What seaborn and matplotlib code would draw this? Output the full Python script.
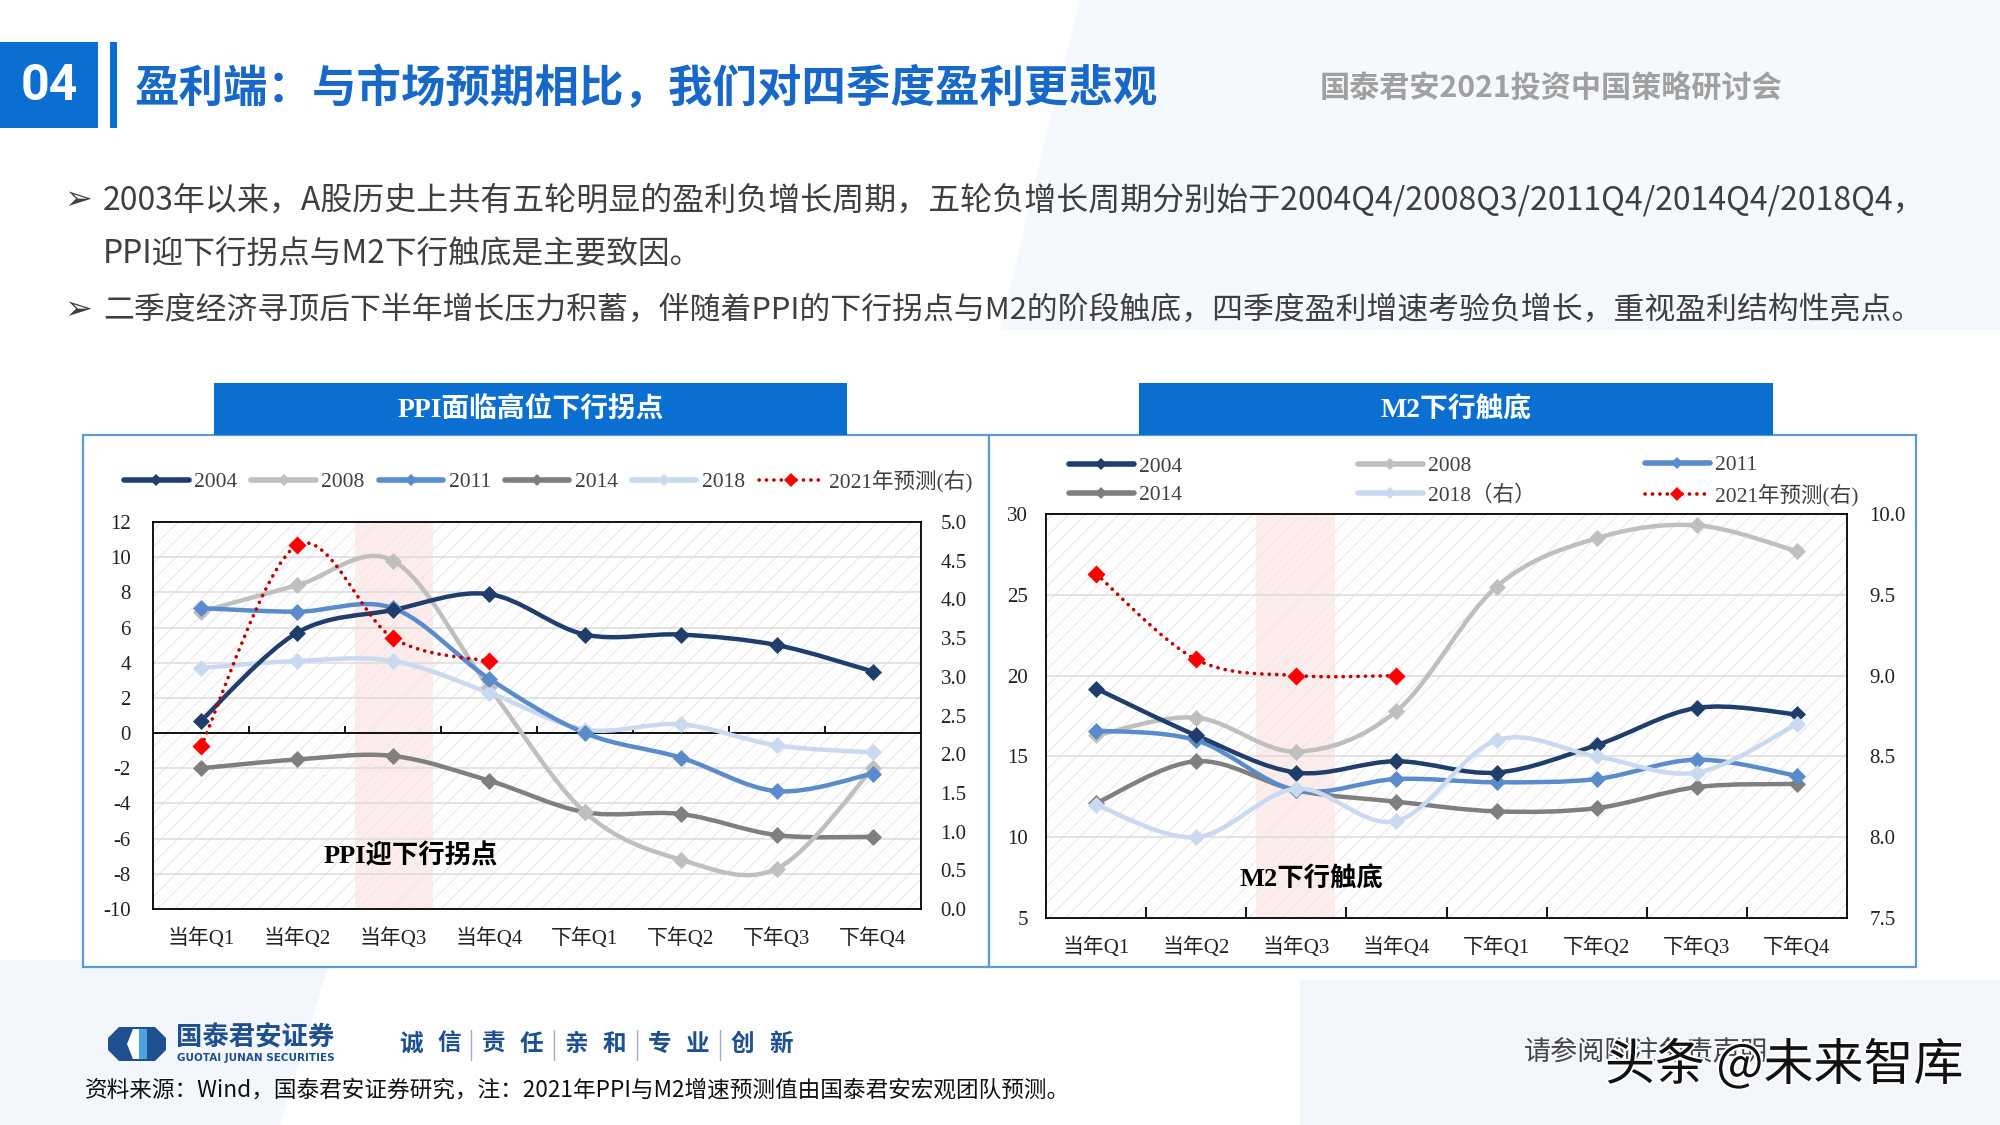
import numpy as np
import pandas as pd
import matplotlib
matplotlib.use("Agg")
import matplotlib.pyplot as plt
import seaborn as sns
from matplotlib.path import Path
from matplotlib.patches import PathPatch, Rectangle, Polygon
from matplotlib.lines import Line2D
import matplotlib.patheffects as pe

# ---------------- data ----------------
quarters = ['当年Q1', '当年Q2', '当年Q3', '当年Q4', '下年Q1', '下年Q2', '下年Q3', '下年Q4']
ppi_2004 = [0.7, 5.7, 7.0, 7.9, 5.6, 5.6, 5.0, 3.5]
ppi_2008 = [6.9, 8.4, 9.8, 2.6, -4.5, -7.2, -7.7, -2.0]
ppi_2011 = [7.1, 6.9, 7.1, 3.1, 0.0, -1.4, -3.3, -2.3]
ppi_2014 = [-2.0, -1.5, -1.3, -2.7, -4.5, -4.6, -5.8, -5.9]
ppi_2018 = [3.7, 4.1, 4.1, 2.3, 0.2, 0.5, -0.7, -1.1]
ppi_2021_right = [2.1, 4.7, 3.5, 3.2]

m2_2004 = [19.2, 16.3, 14.0, 14.7, 14.0, 15.7, 18.0, 17.6]
m2_2008 = [16.3, 17.4, 15.3, 17.8, 25.5, 28.5, 29.3, 27.7]
m2_2011 = [16.6, 16.0, 12.9, 13.6, 13.4, 13.6, 14.8, 13.8]
m2_2014 = [12.1, 14.7, 12.9, 12.2, 11.6, 11.8, 13.1, 13.3]
m2_2018_right = [8.2, 8.0, 8.3, 8.1, 8.6, 8.5, 8.4, 8.7]
m2_2021_right = [9.63, 9.1, 9.0, 9.0]

ppi_left_ticks = list(range(-10, 13, 2))
ppi_right_ticks = [0.0, 0.5, 1.0, 1.5, 2.0, 2.5, 3.0, 3.5, 4.0, 4.5, 5.0]
m2_left_ticks = [5, 10, 15, 20, 25, 30]
m2_right_ticks = [7.5, 8.0, 8.5, 9.0, 9.5, 10.0]

slogan_groups = [['诚', '信'], ['责', '任'], ['亲', '和'], ['专', '业'], ['创', '新']]

# ---------------- style ----------------
sns.set_theme(style="white")
plt.rcParams['font.family'] = ['Liberation Serif', 'Noto Sans CJK SC']
plt.rcParams['hatch.linewidth'] = 1.0
plt.rcParams['axes.unicode_minus'] = False

C2004 = '#1F3E6B'
C2008 = '#BFBFBF'
C2011 = '#5A8BCB'
C2014 = '#7F7F7F'
C2018 = '#C9D9EF'
CRED = '#FF0000'
CREDLINE = '#C00000'
BLUE = '#0A6FD1'
SANS = ['Noto Sans CJK SC', 'DejaVu Sans']
SERIF = ['Liberation Serif', 'Noto Sans CJK SC']

W, H = 2000, 1125
fig = plt.figure(figsize=(20, 11.25), dpi=100)
fig.patch.set_facecolor('white')

# background / decoration axes in pixel coords
bg = fig.add_axes([0, 0, 1, 1])
bg.set_xlim(0, W)
bg.set_ylim(H, 0)
bg.axis('off')

# faint background shapes
bg.add_patch(Polygon([[1080, 0], [2000, 0], [2000, 330], [1000, 330], [1050, 120]],
                     closed=True, facecolor='#F5F8FC', edgecolor='none', zorder=0))
bg.add_patch(Polygon([[0, 960], [330, 960], [280, 1125], [0, 1125]],
                     closed=True, facecolor='#F3F7FC', edgecolor='none', zorder=0))
bg.add_patch(Polygon([[1300, 980], [2000, 980], [2000, 1125], [1300, 1125]],
                     closed=True, facecolor='#F2F6FB', edgecolor='none', zorder=0))

# header
bg.add_patch(Rectangle((0, 42), 98, 86, facecolor=BLUE, edgecolor='none', zorder=2))
bg.text(49, 86, '04', color='white', fontsize=36, fontweight='bold', family=['Roboto', 'DejaVu Sans'],
        ha='center', va='center', zorder=3)
bg.add_patch(Rectangle((110, 42), 7, 86, facecolor=BLUE, edgecolor='none', zorder=2))
bg.text(135, 89, '盈利端：与市场预期相比，我们对四季度盈利更悲观', color='#1768C9', fontsize=32,
        fontweight='heavy', family=SANS, ha='left', va='center', zorder=3)
bg.text(1320, 88, '国泰君安2021投资中国策略研讨会', color='#A0A0A0', fontsize=21.7,
        fontweight='bold', family=SANS, ha='left', va='center', zorder=3)

# bullets
txt_color = '#3F3F3F'
bg.text(64, 200, '➢', color=txt_color, fontsize=24, family=['DejaVu Sans'], ha='left', va='center')
bg.text(103, 200, '2003年以来，A股历史上共有五轮明显的盈利负增长周期，五轮负增长周期分别始于2004Q4/2008Q3/2011Q4/2014Q4/2018Q4，',
        color=txt_color, fontsize=23.0, family=SANS, ha='left', va='center')
bg.text(103, 255, 'PPI迎下行拐点与M2下行触底是主要致因。',
        color=txt_color, fontsize=22.8, family=SANS, ha='left', va='center')
bg.text(64, 310, '➢', color=txt_color, fontsize=24, family=['DejaVu Sans'], ha='left', va='center')
bg.text(103, 310, '二季度经济寻顶后下半年增长压力积蓄，伴随着PPI的下行拐点与M2的阶段触底，四季度盈利增速考验负增长，重视盈利结构性亮点。',
        color=txt_color, fontsize=22.2, family=SANS, ha='left', va='center')

# panels
for (x0, x1) in [(83, 989), (989, 1916)]:
    bg.add_patch(Rectangle((x0, 435), x1 - x0, 532, facecolor='white', edgecolor='#5B9BD5',
                           lw=1.6, zorder=1))
for (x0, x1, title) in [(214, 847, 'PPI面临高位下行拐点'), (1139, 1773, 'M2下行触底')]:
    bg.add_patch(Rectangle((x0, 383), x1 - x0, 52, facecolor=BLUE, edgecolor='none', zorder=2))
    bg.text((x0 + x1) / 2, 410, title, color='white', fontsize=20, fontweight='bold',
            family=SERIF, ha='center', va='center', zorder=3)

# footer
logo_cx, logo_cy = 137, 1044
bg.add_patch(Polygon([[logo_cx - 18, logo_cy - 17], [logo_cx + 18, logo_cy - 17], [logo_cx + 29, logo_cy - 6],
                      [logo_cx + 29, logo_cy + 6], [logo_cx + 18, logo_cy + 17], [logo_cx - 18, logo_cy + 17],
                      [logo_cx - 29, logo_cy + 6], [logo_cx - 29, logo_cy - 6]],
                     closed=True, facecolor='#1E4F8F', edgecolor='none', zorder=2))
bg.add_patch(Polygon([[logo_cx - 4, logo_cy - 15], [logo_cx + 10, logo_cy - 15], [logo_cx + 10, logo_cy + 15],
                      [logo_cx - 4, logo_cy + 15], [logo_cx - 10, logo_cy]],
                     closed=True, facecolor='white', edgecolor='none', zorder=3))
bg.add_patch(Polygon([[logo_cx + 2, logo_cy - 15], [logo_cx + 10, logo_cy - 15], [logo_cx + 10, logo_cy + 15],
                      [logo_cx + 2, logo_cy + 15]],
                     closed=True, facecolor='#4DA3E0', edgecolor='none', zorder=4))
bg.text(176, 1038, '国泰君安证券', color='#1E4F8F', fontsize=19, fontweight='bold', family=SANS,
        ha='left', va='center')
bg.text(177, 1058, 'GUOTAI JUNAN SECURITIES', color='#1E4F8F', fontsize=7.5, fontweight='bold',
        family=['DejaVu Sans'], ha='left', va='center')
gx = 399
for gi, grp in enumerate(slogan_groups):
    for ci, ch in enumerate(grp):
        bg.text(gx + ci * 38, 1044, ch, color='#1E4F8F', fontsize=17, fontweight='bold',
                family=SANS, ha='left', va='center')
    if gi < len(slogan_groups) - 1:
        bg.plot([gx + 72, gx + 72], [1030, 1060], color='#9AAFCB', lw=1)
    gx += 83
bg.text(85, 1090, '资料来源：Wind，国泰君安证券研究，注：2021年PPI与M2增速预测值由国泰君安宏观团队预测。',
        color='#111111', fontsize=16.3, family=SANS, ha='left', va='center')
bg.text(1524, 1052, '请参阅附注免责声明', color='#444444', fontsize=19.5, family=SANS,
        ha='left', va='center', zorder=3)
bg.text(1605, 1066, '头条 @未来智库', color='#111111', fontsize=36, family=SANS, ha='left', va='center',
        zorder=4, path_effects=[pe.withStroke(linewidth=3, foreground='white')])


# ---------------- helpers ----------------
def smooth_path(xs, ys):
    pts = np.column_stack([np.asarray(xs, float), np.asarray(ys, float)])
    n = len(pts)
    verts = [pts[0]]
    codes = [Path.MOVETO]
    for i in range(n - 1):
        p0 = pts[i - 1] if i > 0 else pts[i]
        p1 = pts[i]
        p2 = pts[i + 1]
        p3 = pts[i + 2] if i + 2 < n else pts[i + 1]
        c1 = p1 + (p2 - p0) / 6.0
        c2 = p2 - (p3 - p1) / 6.0
        verts += [c1, c2, p2]
        codes += [Path.CURVE4] * 3
    return Path(verts, codes)


def draw_series(ax, values, color, marker_color=None, dotted=False, s=75, lw=3.2):
    xs = np.arange(len(values))
    df = pd.DataFrame({'q': xs, 'v': values})
    if dotted:
        ax.add_patch(PathPatch(smooth_path(xs, values), fill=False, edgecolor=CREDLINE, lw=2.6,
                               linestyle=(0, (0.05, 2.0)), capstyle='round', zorder=3))
    else:
        ax.add_patch(PathPatch(smooth_path(xs, values), fill=False, edgecolor=color, lw=lw,
                               capstyle='round', joinstyle='round', zorder=3))
    sns.scatterplot(data=df, x='q', y='v', ax=ax, marker='D', s=s,
                    color=marker_color or color, linewidth=0, zorder=4, legend=False)


def base_axes(rect, ylim, yticks, band):
    ax = fig.add_axes(rect)
    ax.set_facecolor('white')
    ax.add_patch(Rectangle((0, 0), 1, 1, transform=ax.transAxes, facecolor='white',
                           edgecolor='#ECECEC', hatch='//', lw=0, zorder=0))
    ax.axvspan(band[0], band[1], color='#FBE3E3', alpha=0.65, lw=0, zorder=0.5)
    ax.set_xlim(-0.5, len(quarters) - 0.5)
    ax.set_ylim(*ylim)
    ax.set_yticks(yticks)
    ax.set_yticklabels([str(t) for t in yticks])
    ax.set_xticks(range(len(quarters)))
    ax.set_xticklabels(quarters)
    ax.tick_params(axis='both', which='major', length=0, labelsize=15, colors='#222222')
    for sp in ax.spines.values():
        sp.set_visible(True)
        sp.set_color('black')
        sp.set_linewidth(1.3)
    for t in yticks[1:-1]:
        ax.axhline(t, color='#DCDCDC', lw=1.1, zorder=1)
    ax.set_xlabel('')
    ax.set_ylabel('')
    return ax


def right_axis(ax, ylim, ticks, pad):
    ax2 = ax.twinx()
    ax2.set_ylim(*ylim)
    ax2.set_yticks(ticks)
    ax2.set_yticklabels([f'{t:.1f}' for t in ticks])
    ax2.tick_params(axis='y', length=0, labelsize=15, colors='#222222', pad=pad)
    for sp in ax2.spines.values():
        sp.set_visible(False)
    ax2.grid(False)
    return ax2


# ---------------- left chart: PPI ----------------
axL = base_axes([153 / W, 1 - 909 / H, 768 / W, 387 / H], (-10, 12), ppi_left_ticks, (1.6, 2.42))
axL.tick_params(axis='y', pad=16)
axL.tick_params(axis='x', pad=14)
axL.axhline(0, color='black', lw=1.3, zorder=2)
axL.vlines(np.arange(0.5, len(quarters) - 1), 0, 0.4, color='black', lw=1.3, zorder=2)

draw_series(axL, ppi_2014, C2014)
draw_series(axL, ppi_2008, C2008)
draw_series(axL, ppi_2018, C2018)
draw_series(axL, ppi_2011, C2011)
draw_series(axL, ppi_2004, C2004)
axL.set_xlabel('')
axL.set_ylabel('')
axL.text(2.18, -7.0, 'PPI迎下行拐点', fontsize=19, fontweight='bold', color='black',
         family=SERIF, ha='center', va='center', zorder=5)

axL2 = right_axis(axL, (0, 5), ppi_right_ticks, 14)
draw_series(axL2, ppi_2021_right, CRED, marker_color=CRED, dotted=True, s=85)
axL2.set_xlabel('')
axL2.set_ylabel('')

# ---------------- right chart: M2 ----------------
axR = base_axes([1046 / W, 1 - 918 / H, 801 / W, 404 / H], (5, 30), m2_left_ticks, (1.6, 2.39))
axR.tick_params(axis='y', pad=13)
axR.tick_params(axis='x', pad=14)
axR.set_xticks(np.arange(0.5, len(quarters) - 1), minor=True)
axR.tick_params(axis='x', which='minor', direction='in', length=8, width=1.3, color='black', bottom=True)

draw_series(axR, m2_2014, C2014)
draw_series(axR, m2_2008, C2008)
draw_series(axR, m2_2011, C2011)
draw_series(axR, m2_2004, C2004)
axR.set_xlabel('')
axR.set_ylabel('')
axR.text(2.15, 7.4, 'M2下行触底', fontsize=19, fontweight='bold', color='black',
         family=SERIF, ha='center', va='center', zorder=5)

axR2 = right_axis(axR, (7.5, 10.0), m2_right_ticks, 16)
draw_series(axR2, m2_2018_right, C2018)
draw_series(axR2, m2_2021_right, CRED, marker_color=CRED, dotted=True, s=85)
axR2.set_xlabel('')
axR2.set_ylabel('')


# ---------------- legends ----------------
def handle(color, dotted=False):
    if dotted:
        return Line2D([], [], color=CREDLINE, lw=2.6, linestyle=(0, (0.05, 2.0)), dash_capstyle='round',
                      marker='D', markersize=7, markerfacecolor=CRED, markeredgewidth=0)
    return Line2D([], [], color=color, lw=4, marker='D', markersize=6.5,
                  markerfacecolor=color, markeredgewidth=0)


left_handles = [handle(C2004), handle(C2008), handle(C2011), handle(C2014), handle(C2018), handle(CRED, True)]
left_labels = ['2004', '2008', '2011', '2014', '2018', '2021年预测(右)']
fig.legend(left_handles, left_labels, loc='center left', bbox_to_anchor=(124 / W, 1 - 481 / H),
           ncol=6, frameon=False, fontsize=15.5, handlelength=3.0, handletextpad=0.25,
           columnspacing=0.65, borderpad=0, borderaxespad=0, labelcolor='#404040')

cols = [([handle(C2004), handle(C2014)], ['2004', '2014'], 1069),
        ([handle(C2008), handle(C2018)], ['2008', '2018（右）'], 1358),
        ([handle(C2011), handle(CRED, True)], ['2011', '2021年预测(右)'], 1645)]
for hs, ls, x in cols:
    fig.legend(hs, ls, loc='center left', bbox_to_anchor=(x / W, 1 - 481 / H), ncol=1,
               frameon=False, fontsize=15.5, handlelength=3.0, handletextpad=0.25,
               labelspacing=0.4, borderpad=0, borderaxespad=0, labelcolor='#404040')

fig.savefig('out.png', dpi=100, facecolor='white')
